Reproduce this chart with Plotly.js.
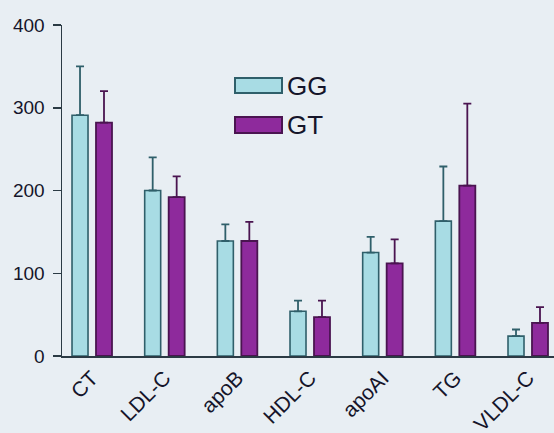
<!DOCTYPE html>
<html>
<head>
<meta charset="utf-8">
<script src="https://cdn.plot.ly/plotly-3.0.1.min.js"></script>
<style>
html,body{margin:0;padding:0;width:554px;height:433px;overflow:hidden;background:#e8eef3;}
#chart{width:580px;height:433px;}
</style>
</head>
<body>
<div id="chart"></div>
<script>
const categories = ["CT", "LDL-C", "apoB", "HDL-C", "apoAI", "TG", "VLDL-C"];
const ggMean = [291, 200, 139, 54, 125, 163, 24];
const ggErr  = [59, 40, 20, 13, 19, 66, 8];
const gtMean = [282, 192, 139, 47, 112, 206, 40];
const gtErr  = [38, 25, 23, 20, 29, 99, 19];
const yTicks = [0, 100, 200, 300, 400];

const W = 580, H = 433, ml = 62, mr = 10, mt = 25, mb = 77;
const pw = W - ml - mr, ph = H - mt - mb;
function px(x){ return (x - ml) / pw; }
function py(y){ return (H - mb - y) / ph; }

const traces = [
  {type:'bar', name:'GG', x:categories, y:ggMean,
   marker:{color:'#a8dce4', line:{color:'#2f5f6a', width:1.6}},
   error_y:{type:'data', array:ggErr, arrayminus:ggErr.map(()=>0), symmetric:false, color:'#2f5f6a', thickness:1.8, width:4}},
  {type:'bar', name:'GT', x:categories, y:gtMean,
   marker:{color:'#8e2a9c', line:{color:'#4a1450', width:1.8}},
   error_y:{type:'data', array:gtErr, arrayminus:gtErr.map(()=>0), symmetric:false, color:'#4a1450', thickness:1.8, width:4}}
];

const layout = {
  width:W, height:H,
  margin:{l:ml, r:mr, t:mt, b:mb, pad:0},
  paper_bgcolor:'#e8eef3', plot_bgcolor:'#e8eef3',
  showlegend:false,
  barmode:'group', bargap:0.34, bargroupgap:0.333,
  font:{family:'Liberation Sans, Arial, sans-serif', color:'#15152a'},
  xaxis:{type:'category', range:[-0.413, 6.578], showline:true, linecolor:'#2b3a44', linewidth:1.5,
         ticks:'', tickangle:-45, tickfont:{size:21, color:'#15152a'}, showgrid:false, zeroline:false},
  yaxis:{range:[0,400], tickvals:yTicks, ticktext:yTicks.map(String), showline:true, linecolor:'#2b3a44', linewidth:1.5,
         ticks:'outside', ticklen:8, tickwidth:1.5, tickcolor:'#2b3a44', ticklabelstandoff:4,
         tickfont:{size:19, color:'#15152a'}, showgrid:false, zeroline:false},
  shapes:[
    {type:'rect', xref:'paper', yref:'paper', x0:px(235), x1:px(282), y0:py(93), y1:py(78),
     fillcolor:'#a8dce4', line:{color:'#2f5f6a', width:2}},
    {type:'rect', xref:'paper', yref:'paper', x0:px(235), x1:px(282), y0:py(133), y1:py(117),
     fillcolor:'#8e2a9c', line:{color:'#4a1450', width:2}}
  ],
  annotations:[
    {xref:'paper', yref:'paper', x:px(285), y:py(86), xanchor:'left', yanchor:'middle', text:'GG', showarrow:false, font:{size:26, color:'#15152a'}},
    {xref:'paper', yref:'paper', x:px(285), y:py(125), xanchor:'left', yanchor:'middle', text:'GT', showarrow:false, font:{size:26, color:'#15152a'}}
  ]
};

Plotly.newPlot('chart', traces, layout, {displayModeBar:false, staticPlot:true});
</script>
</body>
</html>
